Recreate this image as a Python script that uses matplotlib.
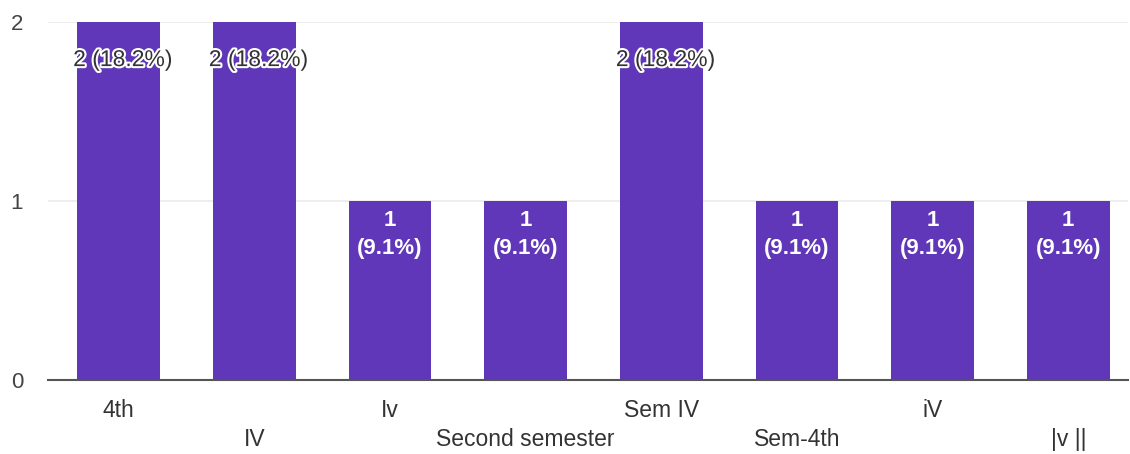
import matplotlib.pyplot as plt
import matplotlib.patheffects as pe

categories = ["4th", "IV", "Iv", "Second semester", "Sem IV", "Sem-4th", "iV", "|v ||"]
counts = [2, 2, 1, 1, 2, 1, 1, 1]
total = 11

plt.rcParams['font.family'] = ['Liberation Sans', 'DejaVu Sans']

fig = plt.figure(figsize=(11.3, 4.54), dpi=100)
ax = fig.add_axes([48 / 1130, 74 / 454, 1080 / 1130, 358 / 454])

x = list(range(len(categories)))
ax.bar(x, counts, width=0.61, color='#5f37b8', zorder=2)

# value labels
for i, c in enumerate(counts):
    pct = c / total * 100
    if c == 2:
        ax.text(i + 0.03, c - 0.21, f"{c} ({pct:.1f}%)", ha='center', va='center',
                fontsize=16.5, color='#333333', zorder=3,
                path_effects=[pe.withStroke(linewidth=3, foreground='white')])
    else:
        ax.text(i, c - 0.05, f"{c}\n({pct:.1f}%)", ha='center', va='top',
                fontsize=16, color='white', fontweight='bold', zorder=3,
                linespacing=1.45)

ax.set_xlim(-0.52, 7.44)
ax.set_ylim(0, 2)
ax.set_yticks([0, 1, 2])
ax.set_yticklabels(["0", "1", "2"], fontsize=16, color='#444444')
ax.tick_params(axis='y', length=0, pad=18)
ax.grid(axis='y', color='#eeeeee', linewidth=1.5, zorder=0)

# staggered category labels
ax.set_xticks(x)
ax.set_xticklabels([])
ax.tick_params(axis='x', length=0)
for i, lab in enumerate(categories):
    y_off = -0.17 if i % 2 == 0 else -0.335
    ax.text(i, y_off, lab, ha='center', va='center', fontsize=16.5,
            color='#333333', transform=ax.transData, clip_on=False)

for s in ['top', 'right', 'left']:
    ax.spines[s].set_visible(False)
ax.spines['bottom'].set_color('#555555')
ax.spines['bottom'].set_linewidth(1.5)
ax.spines['bottom'].set_zorder(4)

fig.savefig("out.png", dpi=100)
